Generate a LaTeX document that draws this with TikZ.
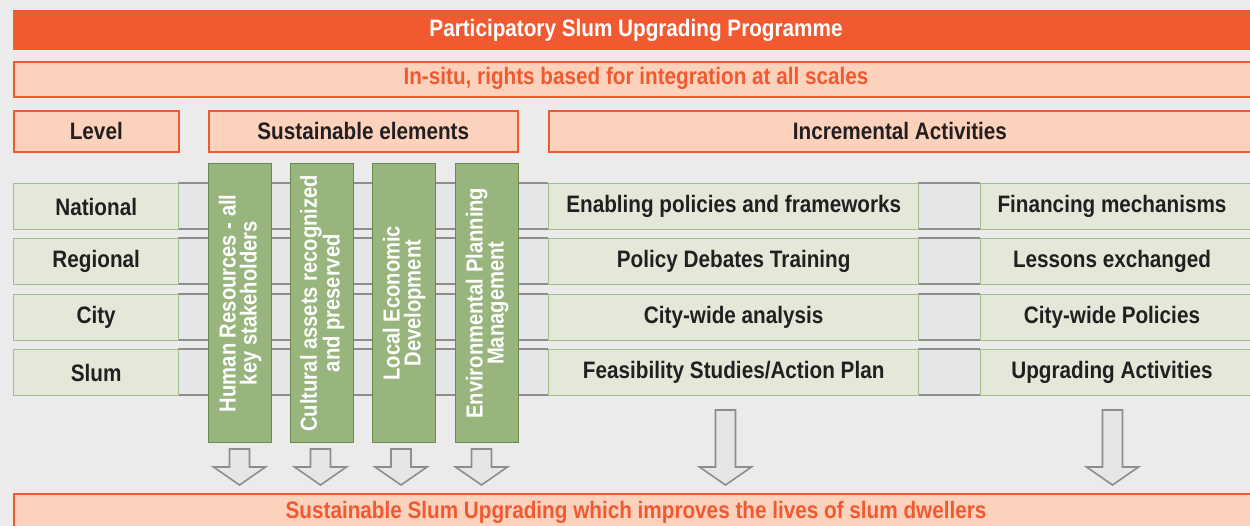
\documentclass[tikz,border=0pt]{standalone}
\usepackage{fontspec}
\setmainfont[FakeStretch=0.87]{Liberation Sans}
\definecolor{bgc}{HTML}{EBEBEB}
\definecolor{orng}{HTML}{F15A31}
\definecolor{salmon}{HTML}{FCD2BC}
\definecolor{lgfill}{HTML}{E3E8D8}
\definecolor{lgline}{HTML}{A3BE8A}
\definecolor{gfill}{HTML}{98B57E}
\definecolor{gline}{HTML}{6B8A4D}
\definecolor{grfill}{HTML}{E5E6E8}
\definecolor{grline}{HTML}{8D8D8D}
\definecolor{txt}{HTML}{231F20}
\tikzset{
  tfont/.style={font=\fontsize{23.8}{25}\selectfont\bfseries},
  hdrbox/.style={draw=orng, line width=1.6pt, fill=salmon, inner sep=0pt, anchor=north west, tfont, text=txt},
  titlebox/.style={fill=orng, inner sep=0pt, anchor=north west},
  rowbox/.style={draw=lgline, line width=1.4pt, fill=lgfill, inner sep=0pt, anchor=north west, minimum height=46pt, tfont, text=txt},
  elembox/.style={draw=gline, line width=1.4pt, fill=gfill, inner sep=0pt, anchor=north west, minimum width=63pt, minimum height=279pt},
  elemtext/.style={rotate=90, align=center, text=white, font=\fontsize{23.2}{21}\selectfont\bfseries},
  lbl/.style={tfont, text=txt, inner sep=0pt},
  strip/.style={fill=grfill},
  stripline/.style={draw=grline, line width=1.6pt},
  blockarrow/.style={fill=grfill, draw=grline, line width=1.6pt, line join=miter},
}
\begin{document}
\begin{tikzpicture}[x=1pt,y=-1pt]
\useasboundingbox (0,0) rectangle (1250,526);
\clip (0,0) rectangle (1250,526);
\fill[bgc] (0,0) rectangle (1250,526);

% title bars
\node[titlebox, minimum width=1249pt, minimum height=40pt] (title) at (13,10) {};
\node[tfont, text=white, inner sep=0pt] (titletext) at (636,30) {Participatory Slum Upgrading Programme};
\node[hdrbox, minimum width=1249pt, minimum height=35pt] (insitu) at (13,61) {};
\node[tfont, text=orng, inner sep=0pt] (insitutext) at (636,78) {In-situ, rights based for integration at all scales};

% column headers
\node[hdrbox, minimum width=165pt, minimum height=41pt] (level) at (13,110) {Level};
\node[hdrbox, minimum width=309pt, minimum height=41pt] (sust) at (208,110) {Sustainable elements};
\node[hdrbox, minimum width=714pt, minimum height=41pt] (incr) at (548,110) {};
\node[lbl] (incrtext) at (900,130.5) {Incremental Activities};

% gray strips behind rows
\foreach \t in {183,238,294,349}{
  \fill[strip] (178,\t) rectangle (548,\t+46);
  \draw[stripline] (178,\t) -- (548,\t);
  \draw[stripline] (178,\t+46) -- (548,\t+46);
  \fill[strip] (918,\t) rectangle (980,\t+46);
  \draw[stripline] (918,\t) -- (980,\t);
  \draw[stripline] (918,\t+46) -- (980,\t+46);
}

% level boxes
\node[rowbox, minimum width=165pt] (national) at (13,183) {National};
\node[rowbox, minimum width=165pt] (regional) at (13,238) {Regional};
\node[rowbox, minimum width=165pt] (city) at (13,294) {City};
\node[rowbox, minimum width=165pt] (slum) at (13,349) {Slum};

% activity boxes (left column)
\node[rowbox, minimum width=370pt] (act1) at (548,183) {Enabling policies and frameworks};
\node[rowbox, minimum width=370pt] (act2) at (548,238) {Policy Debates Training};
\node[rowbox, minimum width=370pt] (act3) at (548,294) {City-wide analysis};
\node[rowbox, minimum width=370pt] (act4) at (548,349) {Feasibility Studies/Action Plan};

% activity boxes (right column)
\node[rowbox, minimum width=285pt] (fin1) at (980,183) {};
\node[rowbox, minimum width=285pt] (fin2) at (980,238) {};
\node[rowbox, minimum width=285pt] (fin3) at (980,294) {};
\node[rowbox, minimum width=285pt] (fin4) at (980,349) {};
\node[lbl] (fin1t) at (1112,206) {Financing mechanisms};
\node[lbl] (fin2t) at (1112,261) {Lessons exchanged};
\node[lbl] (fin3t) at (1112,317) {City-wide Policies};
\node[lbl] (fin4t) at (1112,372) {Upgrading Activities};

% sustainable elements (vertical)
\node[elembox] (el1) at (208,163) {};
\node[elembox] (el2) at (290,163) {};
\node[elembox] (el3) at (372,163) {};
\node[elembox] (el4) at (455,163) {};
\node[elemtext] (el1t) at (el1.center) {Human Resources - all\\key stakeholders};
\node[elemtext] (el2t) at (el2.center) {Cultural assets recognized\\and preserved};
\node[elemtext] (el3t) at (el3.center) {Local Economic\\Development};
\node[elemtext] (el4t) at (el4.center) {Environmental Planning\\Management};

% block arrows
\foreach \c in {239.5,320.5,401,481.5}{
  \draw[blockarrow] (\c-10,449) -- (\c+10,449) -- (\c+10,467) -- (\c+26,467) -- (\c,485) -- (\c-26,467) -- (\c-10,467) -- cycle;
}
\foreach \c in {725.5,1112.5}{
  \draw[blockarrow] (\c-10,410) -- (\c+10,410) -- (\c+10,467) -- (\c+26,467) -- (\c,485) -- (\c-26,467) -- (\c-10,467) -- cycle;
}

% bottom bar
\node[hdrbox, minimum width=1249pt, minimum height=40pt] (result) at (13,493) {};
\node[tfont, text=orng, inner sep=0pt] (resulttext) at (636,512) {Sustainable Slum Upgrading which improves the lives of slum dwellers};
\end{tikzpicture}
\end{document}
